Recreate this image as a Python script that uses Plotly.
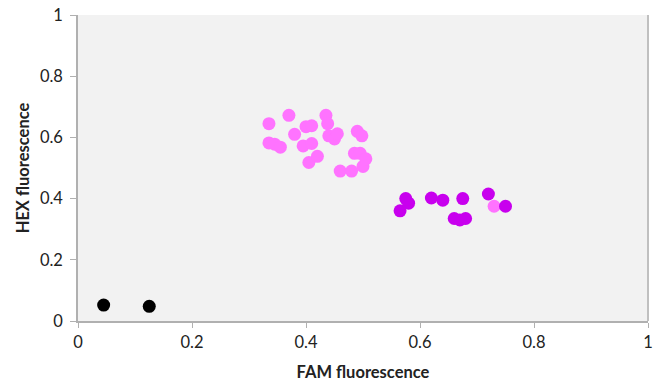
import plotly.graph_objects as go

pink_x = [0.335, 0.335, 0.345, 0.355, 0.37, 0.38, 0.395, 0.40, 0.41, 0.405, 0.41, 0.42,
          0.435, 0.438, 0.44, 0.45, 0.455, 0.46, 0.48, 0.485, 0.49, 0.495, 0.498, 0.50, 0.505, 0.73]
pink_y = [0.645, 0.582, 0.578, 0.568, 0.672, 0.61, 0.572, 0.635, 0.638, 0.518, 0.58, 0.538,
          0.672, 0.645, 0.605, 0.595, 0.612, 0.49, 0.49, 0.548, 0.62, 0.548, 0.605, 0.505, 0.53, 0.375]
purple_x = [0.565, 0.575, 0.58, 0.62, 0.64, 0.66, 0.67, 0.675, 0.68, 0.72, 0.75]
purple_y = [0.36, 0.40, 0.385, 0.402, 0.395, 0.335, 0.33, 0.40, 0.335, 0.415, 0.375]
black_x = [0.045, 0.125]
black_y = [0.052, 0.048]

x_ticks = [0, 0.2, 0.4, 0.6, 0.8, 1]
y_ticks = [0, 0.2, 0.4, 0.6, 0.8, 1]
x_labels = ["0", "0.2", "0.4", "0.6", "0.8", "1"]
y_labels = ["0", "0.2", "0.4", "0.6", "0.8", "1"]

fig = go.Figure()
for xs, ys, c in [(pink_x, pink_y, "#ff73ff"), (purple_x, purple_y, "#c800ee"), (black_x, black_y, "#000000")]:
    fig.add_trace(go.Scatter(x=xs, y=ys, mode="markers",
                             marker=dict(size=13, color=c, line=dict(width=0)),
                             showlegend=False))

font = "Lato, 'Open Sans', sans-serif"
fig.update_layout(
    width=653, height=382,
    margin=dict(l=78, r=5, t=15, b=61),
    paper_bgcolor="white", plot_bgcolor="#f2f2f2",
    font=dict(family=font, size=16.5, color="#222222"),
    xaxis=dict(range=[0, 1], tickvals=x_ticks, ticktext=x_labels, showgrid=False, zeroline=False,
               showline=True, linecolor="#b0b0b0", linewidth=1.5, ticks="outside", ticklen=5,
               tickcolor="#b0b0b0", automargin=False,
               title=dict(text="<b>FAM fluorescence</b>", font=dict(size=16.5), standoff=20)),
    yaxis=dict(range=[0, 1], tickvals=y_ticks, ticktext=y_labels, showgrid=False, zeroline=False,
               showline=True, linecolor="#b0b0b0", linewidth=1.5, ticks="outside", ticklen=6,
               tickcolor="#b0b0b0", ticklabelstandoff=4, automargin=False,
               title=dict(text="<b>HEX fluorescence</b>", font=dict(size=16.5), standoff=6)),
    shapes=[dict(type="line", xref="paper", yref="paper", x0=1, x1=1, y0=0, y1=1,
                 line=dict(color="#c0c0c0", width=2))],
)
fig.write_html("out.html")
